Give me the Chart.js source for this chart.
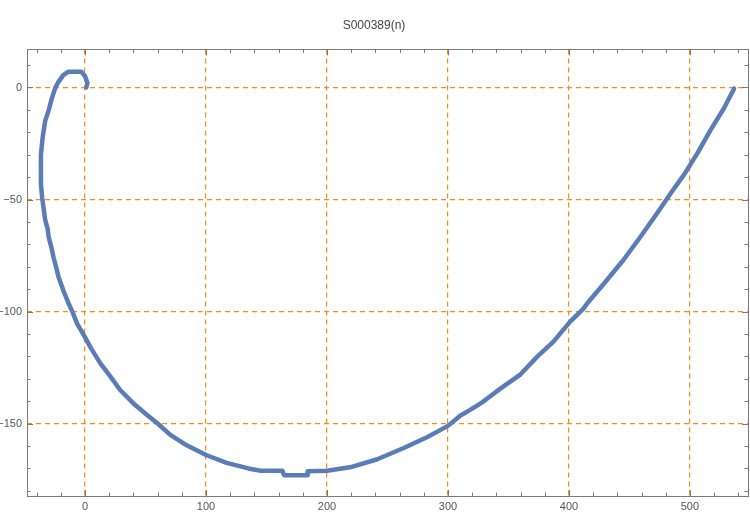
<!DOCTYPE html>
<html>
<head>
<meta charset="utf-8">
<script src="https://cdn.jsdelivr.net/npm/chart.js@4/dist/chart.umd.min.js"></script>
<style>
  html, body { margin: 0; padding: 0; background: #fff; }
  #wrap { width: 750px; height: 513px; }
</style>
</head>
<body>
<div id="wrap"><canvas id="pathChart"></canvas></div>
<script>
// path points, in walking order
const pathX = [1, 2, 0, -3, -8, -14, -18, -22, -24.5, -27, -30, -33, -35, -36.5, -36.5, -35.5, -34, -33, -31, -30, -28, -26, -24, -22, -18, -13.5, -10.5, -6.5, -1, 4.5, 12.5, 21, 29, 40, 51, 59.5, 70.5, 84, 100, 117, 135, 145, 163, 164.5, 183.5, 184, 200, 219, 241, 263, 283, 300, 310, 318, 327, 343, 360, 374, 387, 401, 412, 415, 429, 445, 459, 473, 484, 495, 506, 517, 528, 536.5];
const pathY = [0, 2, 5, 7, 7, 7, 5.5, 2.5, 0, -4, -10, -15, -22, -30, -43, -49, -55, -59, -63, -67, -71, -76, -80, -84.5, -90.5, -96.5, -100, -105.5, -110.5, -116, -123, -129, -135, -141, -146, -149.7, -155, -159.7, -164, -167.5, -170, -171, -171, -173, -173, -171.2, -171, -169.5, -166, -161, -156, -151, -146.5, -144, -141, -134.5, -128, -120, -113.5, -104.5, -98.7, -96.4, -87.5, -77, -66.7, -56, -47.3, -39, -29.5, -19, -9.4, -0.5];

// tick positions and labelled ticks
const xTicks = [-40, -20, 0, 20, 40, 60, 80, 100, 120, 140, 160, 180, 200, 220, 240, 260, 280, 300, 320, 340, 360, 380, 400, 420, 440, 460, 480, 500, 520, 540];
const xMajor = [0, 100, 200, 300, 400, 500];
const yTicks = [-180, -170, -160, -150, -140, -130, -120, -110, -100, -90, -80, -70, -60, -50, -40, -30, -20, -10, 0, 10];
const yMajor = [-150, -100, -50, 0];

const orange = '#ff8a10';
const frameColor = '#7a7a7a';
const labelFont = { family: 'Liberation Sans, Arial, sans-serif', size: 11 };

function fmt(v) {
    return v < 0 ? '\u2212' + Math.abs(v) : String(v);
}

// frame with inward ticks on all four sides
const framePlugin = {
    id: 'frame',
    afterDraw(chart) {
        const ctx = chart.ctx;
        const a = chart.chartArea;
        const xs = chart.scales.x;
        const ys = chart.scales.y;
        ctx.save();
        ctx.strokeStyle = frameColor;
        ctx.lineWidth = 1;
        ctx.strokeRect(Math.round(a.left) + 0.5, Math.round(a.top) + 0.5, Math.round(a.right - a.left), Math.round(a.bottom - a.top));
        ctx.beginPath();
        xTicks.forEach(v => {
            const px = Math.round(xs.getPixelForValue(v)) + 0.5;
            const len = xMajor.includes(v) ? 6 : 3.5;
            ctx.moveTo(px, a.bottom);
            ctx.lineTo(px, a.bottom - len);
            ctx.moveTo(px, a.top);
            ctx.lineTo(px, a.top + len);
        });
        yTicks.forEach(v => {
            const py = Math.round(ys.getPixelForValue(v)) + 0.5;
            const len = yMajor.includes(v) ? 6 : 3.5;
            ctx.moveTo(a.left, py);
            ctx.lineTo(a.left + len, py);
            ctx.moveTo(a.right, py);
            ctx.lineTo(a.right - len, py);
        });
        ctx.stroke();
        ctx.restore();
    }
};

const points = pathX.map((x, i) => ({ x: x, y: pathY[i] }));

new Chart(document.getElementById('pathChart').getContext('2d'), {
    type: 'scatter',
    data: {
        datasets: [{
            data: points,
            showLine: true,
            borderColor: '#5b7db7',
            backgroundColor: '#5b7db7',
            borderWidth: 4.5,
            borderJoinStyle: 'round',
            borderCapStyle: 'round',
            pointRadius: 0,
            tension: 0
        }]
    },
    options: {
        responsive: true,
        maintainAspectRatio: false,
        animation: false,
        layout: { padding: { left: 0, right: 2, top: 0, bottom: 0 } },
        plugins: {
            legend: { display: false },
            tooltip: { enabled: false },
            title: {
                display: true,
                text: 'S000389(n)',
                color: '#444',
                font: { family: 'Liberation Sans, Arial, sans-serif', size: 12, weight: 'normal' },
                padding: { top: 18, bottom: 17 }
            }
        },
        scales: {
            x: {
                type: 'linear',
                min: -48,
                max: 548,
                afterBuildTicks: scale => { scale.ticks = xTicks.map(v => ({ value: v })); },
                afterFit: scale => { scale.height = 17; },
                border: { display: false, dash: [5, 4] },
                grid: {
                    drawTicks: false,
                    lineWidth: 1.2,
                    color: c => xMajor.includes(c.tick.value) ? orange : 'rgba(0,0,0,0)'
                },
                ticks: {
                    autoSkip: false,
                    maxRotation: 0,
                    padding: 4,
                    color: '#555',
                    font: labelFont,
                    callback: v => xMajor.includes(v) ? fmt(v) : ''
                }
            },
            y: {
                type: 'linear',
                min: -182.3,
                max: 17,
                afterBuildTicks: scale => { scale.ticks = yTicks.map(v => ({ value: v })); },
                afterFit: scale => { scale.width = 27; },
                border: { display: false, dash: [5, 4] },
                grid: {
                    drawTicks: false,
                    lineWidth: 1.2,
                    color: c => yMajor.includes(c.tick.value) ? orange : 'rgba(0,0,0,0)'
                },
                ticks: {
                    autoSkip: false,
                    padding: 5,
                    color: '#555',
                    font: labelFont,
                    callback: v => yMajor.includes(v) ? fmt(v) : ''
                }
            }
        }
    },
    plugins: [framePlugin]
});
</script>
</body>
</html>
